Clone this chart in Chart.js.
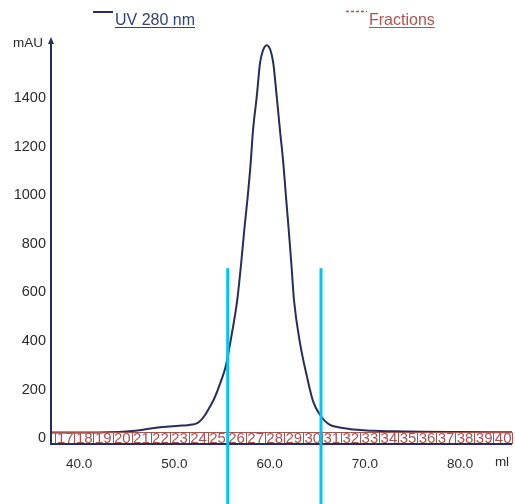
<!DOCTYPE html>
<html><head><meta charset="utf-8">
<script src="https://cdn.jsdelivr.net/npm/chart.js@4/dist/chart.umd.min.js"></script>
<style>html,body{margin:0;padding:0;background:#fff;overflow:hidden}#wrap{width:515px;height:504px;position:relative}</style>
</head><body><div id="wrap"><canvas id="c" width="515" height="504"></canvas></div>
<script>
// ---- data ----
const uvVolume = [37.0,39.0,41.0,43.0,44.5,45.5,46.5,47.5,48.5,49.5,50.5,51.3,51.9,52.4,52.8,53.2,53.7,54.2,54.8,55.4,56.05,56.6,57.0,57.34,57.7,58.01,58.26,58.65,58.99,59.3,59.7,60.1,60.39,60.75,61.09,61.44,61.72,62.01,62.3,62.56,63.19,63.93,64.57,65.29,65.8,66.34,67.0,67.7,68.5,69.5,71.0,73.0,76.0,80.0,85.5];
const uvAbsorbance = [24,24,24,25,27,30,35,41,46,49,52,54,57,63,75,95,128,165,225,298,434,569,715,857,994,1132,1268,1405,1542,1595,1617,1595,1542,1405,1268,1132,994,857,710,569,393,253,152,97,72,56,48,43,38,35,31,29,27,26,25];
const xTickValues = [40,50,60,70,80];
const yTickValues = [0,200,400,600,800,1000,1200,1400];
const fractionNumbers = [17,18,19,20,21,22,23,24,25,26,27,28,29,30,31,32,33,34,35,36,37,38,39,40];
const fractionBounds = [37.5,39.5,41.5,43.5,45.5,47.5,49.5,51.5,53.5,55.5,57.5,59.5,61.5,63.5,65.5,67.5,69.5,71.5,73.5,75.5,77.5,79.5,81.5,83.5,85.5];
const markerVolumes = [55.6,65.4];
const markerTopValue = 700;
const seriesNames = ['UV 280 nm','Fractions'];
const xUnit = 'ml';
const yUnit = 'mAU';

const NAVY = '#272d5c';
const FRAC = '#a9524f';
const FONT = '"Liberation Sans", Arial, sans-serif';

const decor = {
  id: 'decor',
  afterDatasetsDraw(chart) {
    const {ctx, chartArea: a, scales: {x, y}} = chart;
    ctx.save();
    // fraction band
    const bandTop = a.bottom - 11.5;
    ctx.strokeStyle = FRAC; ctx.lineWidth = 1.2;
    ctx.beginPath(); ctx.moveTo(a.left, bandTop); ctx.lineTo(a.right, bandTop); ctx.stroke();
    ctx.lineWidth = 1;
    fractionBounds.forEach(v => {
      const px = Math.round(x.getPixelForValue(v)) + 0.5;
      ctx.beginPath(); ctx.moveTo(px, bandTop); ctx.lineTo(px, a.bottom); ctx.stroke();
    });
    ctx.fillStyle = FRAC; ctx.font = '15px ' + FONT;
    ctx.textAlign = 'left'; ctx.textBaseline = 'middle';
    fractionNumbers.forEach((n, i) => {
      const px = x.getPixelForValue(fractionBounds[i]);
      ctx.fillText(String(n), px + 1.5, a.bottom - 5);
    });
    // axes
    ctx.strokeStyle = NAVY; ctx.lineWidth = 2;
    ctx.beginPath(); ctx.moveTo(a.left, a.top - 2); ctx.lineTo(a.left, a.bottom); ctx.lineTo(a.right, a.bottom); ctx.stroke();
    ctx.fillStyle = NAVY;
    ctx.beginPath(); ctx.moveTo(a.left, a.top - 5); ctx.lineTo(a.left - 3, a.top + 2); ctx.lineTo(a.left + 3, a.top + 2); ctx.closePath(); ctx.fill();
    // units
    ctx.fillStyle = '#2b2b2b'; ctx.textBaseline = 'middle';
    ctx.font = '13.5px ' + FONT; ctx.textAlign = 'center';
    ctx.fillText(yUnit, 28, a.top + 1);
    ctx.fillText(xUnit, 502, 462);
    // legend
    ctx.font = '16px ' + FONT; ctx.textAlign = 'left'; ctx.textBaseline = 'alphabetic';
    ctx.strokeStyle = NAVY; ctx.lineWidth = 2;
    ctx.beginPath(); ctx.moveTo(93, 12); ctx.lineTo(113, 12); ctx.stroke();
    ctx.fillStyle = '#34417a';
    ctx.fillText(seriesNames[0], 115, 25);
    let w = ctx.measureText(seriesNames[0]).width;
    ctx.strokeStyle = '#34417a'; ctx.lineWidth = 1;
    ctx.beginPath(); ctx.moveTo(115, 27.5); ctx.lineTo(115 + w, 27.5); ctx.stroke();
    ctx.strokeStyle = FRAC; ctx.lineWidth = 1.5; ctx.setLineDash([3, 2]);
    ctx.beginPath(); ctx.moveTo(346, 11.5); ctx.lineTo(367, 11.5); ctx.stroke();
    ctx.setLineDash([]);
    ctx.fillStyle = '#b0544f';
    ctx.fillText(seriesNames[1], 369, 25);
    w = ctx.measureText(seriesNames[1]).width;
    ctx.strokeStyle = '#b0544f'; ctx.lineWidth = 1;
    ctx.beginPath(); ctx.moveTo(369, 27.5); ctx.lineTo(369 + w, 27.5); ctx.stroke();
    ctx.restore();
  },
  afterDraw(chart) {
    const {ctx, scales: {x, y}} = chart;
    ctx.save();
    ctx.strokeStyle = '#00c4f5'; ctx.lineWidth = 3;
    markerVolumes.forEach(v => {
      const px = x.getPixelForValue(v);
      ctx.beginPath(); ctx.moveTo(px, y.getPixelForValue(markerTopValue)); ctx.lineTo(px, chart.height); ctx.stroke();
    });
    ctx.restore();
  }
};

new Chart(document.getElementById('c'), {
  type: 'line',
  data: {
    datasets: [{
      label: seriesNames[0],
      data: uvVolume.map((v, i) => ({x: v, y: uvAbsorbance[i]})),
      borderColor: NAVY, borderWidth: 2, pointRadius: 0,
      cubicInterpolationMode: 'monotone', fill: false
    }]
  },
  options: {
    responsive: false, animation: false, devicePixelRatio: 1,
    layout: {padding: {top: 42, right: 3, left: 0, bottom: 0}},
    plugins: {legend: {display: false}, tooltip: {enabled: false}},
    scales: {
      x: {
        type: 'linear', min: 37.04, max: 85.46,
        grid: {display: false, drawTicks: false}, border: {display: false},
        afterBuildTicks: s => { s.ticks = xTickValues.map(v => ({value: v})); },
        afterFit: s => { s.height = 60; },
        ticks: {padding: 12, color: '#2b2b2b', font: {family: FONT, size: 13.5}, maxRotation: 0,
          callback: v => Number(v).toFixed(1)}
      },
      y: {
        type: 'linear', min: -23, max: 1630,
        grid: {display: false, drawTicks: false}, border: {display: false},
        afterBuildTicks: s => { s.ticks = yTickValues.map(v => ({value: v})); },
        afterFit: s => { s.width = 51; },
        ticks: {padding: 5, color: '#2b2b2b', font: {family: FONT, size: 14.5},
          callback: v => String(v)}
      }
    }
  },
  plugins: [decor]
});
</script></body></html>
